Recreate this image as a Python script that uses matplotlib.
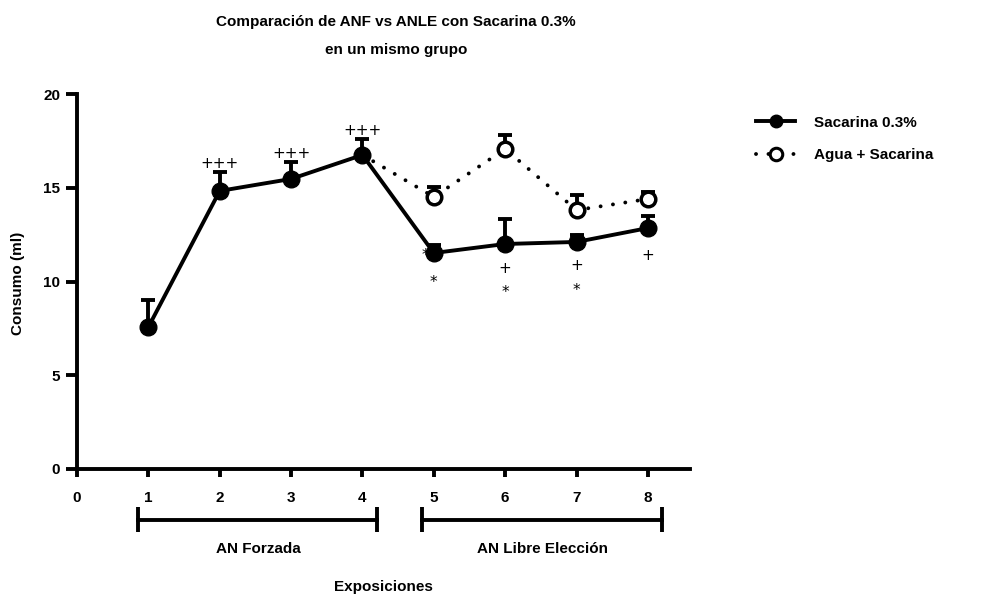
import numpy as np
import matplotlib
matplotlib.use("Agg")
import matplotlib.pyplot as plt
from matplotlib.lines import Line2D

plt.rcParams['font.family'] = ['Liberation Sans', 'DejaVu Sans']
plt.rcParams['font.weight'] = 'bold'

# --- Data ---
exposiciones = [1, 2, 3, 4, 5, 6, 7, 8]
sacarina = [7.57, 14.83, 15.47, 16.75, 11.52, 12.0, 12.11, 12.85]
sacarina_sem = [1.44, 1.01, 0.9, 0.85, 0.43, 1.33, 0.37, 0.64]

expos_agua = [4, 5, 6, 7, 8]
agua = [16.75, 14.51, 17.07, 13.81, 14.4]
agua_sem = [0.0, 0.53, 0.75, 0.8, 0.37]

# significance marks: above the error bar (exp 2-4) and below the point (exp 5-8)
marcas_arriba = {2: "+++", 3: "+++", 4: "+++"}
marcas_abajo = {5: ["*", "*"], 6: ["+", "*"], 7: ["+", "*"], 8: ["+"]}

fig = plt.figure(figsize=(9.82, 5.98), dpi=100)
ax = fig.add_axes([77 / 982, 1 - 469 / 598, (690 - 77) / 982, 375 / 598])

lw = 2.8
# Agua + Sacarina (dotted, open circles)
ax.plot(expos_agua, agua, color='black', lw=2.8, linestyle=(0, (0.01, 3.2)),
        dash_capstyle='round', zorder=2)
ax.errorbar(expos_agua[1:], agua[1:], yerr=[np.zeros(4), agua_sem[1:]], fmt='none',
            ecolor='black', elinewidth=lw, capsize=5, capthick=lw, zorder=2)
ax.plot(expos_agua[1:], agua[1:], linestyle='none', marker='o', markersize=10.5,
        markerfacecolor='white', markeredgecolor='black', markeredgewidth=2.5, zorder=3)

# Sacarina 0.3% (solid, filled circles)
ax.errorbar(exposiciones, sacarina, yerr=[np.zeros(8), sacarina_sem], fmt='none',
            ecolor='black', elinewidth=lw, capsize=5, capthick=lw, zorder=4)
ax.plot(exposiciones, sacarina, color='black', lw=lw, marker='o', markersize=12,
        zorder=5)

for x, txt in marcas_arriba.items():
    i = exposiciones.index(x)
    ax.text(x, sacarina[i] + sacarina_sem[i] + 0.45, txt, ha='center', va='center',
            fontsize=11, fontweight='normal', family='DejaVu Sans', zorder=1)

desplaz = {5: [(-0.12, -0.15), (0.0, -1.55)], 6: [(0, -1.3), (0, -2.56)],
           7: [(0, -1.27), (0, -2.6)], 8: [(0, -1.44)]}
for x, txts in marcas_abajo.items():
    i = exposiciones.index(x)
    for txt, (dx, dy) in zip(txts, desplaz[x]):
        ax.text(x + dx, sacarina[i] + dy, txt, ha='center', va='center',
                fontsize=11, fontweight='normal', family='DejaVu Sans', zorder=1)

# axes
ax.set_xlim(0, 8.59)
ax.set_ylim(0, 20)
ax.set_xticks(range(0, 9))
ax.set_yticks([0, 5, 10, 15, 20])
for s in ['top', 'right']:
    ax.spines[s].set_visible(False)
for s in ['left', 'bottom']:
    ax.spines[s].set_linewidth(lw)
ax.tick_params(axis='x', length=6, width=lw, pad=10, labelsize=11)
ax.tick_params(axis='y', length=8, width=lw, pad=4, labelsize=11)
for lab in ax.get_xticklabels() + ax.get_yticklabels():
    lab.set_fontweight('bold')

# group brackets under the x axis
grupos = [("AN Forzada", 0.86, 4.21), ("AN Libre Elección", 4.84, 8.2)]
trans = ax.get_xaxis_transform()
for nombre, x0, x1 in grupos:
    ax.plot([x0, x1], [-0.136, -0.136], color='black', lw=lw, transform=trans, clip_on=False)
    for xe in (x0, x1):
        ax.plot([xe, xe], [-0.101, -0.168], color='black', lw=lw, transform=trans,
                clip_on=False, solid_capstyle='butt')
    ax.text((x0 + x1) / 2, -0.213, nombre, transform=trans, ha='center', va='center',
            fontsize=11, fontweight='bold')

fig.text(383 / 982, 1 - 587 / 598, "Exposiciones", ha='center', va='center',
         fontsize=11, fontweight='bold')
fig.text(18 / 982, 1 - 283 / 598, "Consumo (ml)", rotation=90, ha='center', va='center',
         fontsize=11, fontweight='bold')
fig.text(396 / 982, 1 - 22 / 598, "Comparación de ANF vs ANLE con Sacarina 0.3%",
         ha='center', va='center', fontsize=11, fontweight='bold')
fig.text(396 / 982, 1 - 50 / 598, "en un mismo grupo",
         ha='center', va='center', fontsize=11, fontweight='bold')

handles = [
    Line2D([], [], color='black', lw=lw, marker='o', markersize=9),
    Line2D([], [], color='black', lw=2.8, linestyle=(0, (0.01, 3.2)), dash_capstyle='round',
           marker='o', markersize=9, markerfacecolor='white', markeredgewidth=2.2),
]
fig.legend(handles, ["Sacarina 0.3%", "Agua + Sacarina"], loc='upper left',
           bbox_to_anchor=(742 / 982, 1 - 102 / 598), frameon=False, handlelength=2.6,
           labelspacing=1.2, handletextpad=1.2, prop={'weight': 'bold', 'size': 11})

fig.savefig("out.png", dpi=100)
